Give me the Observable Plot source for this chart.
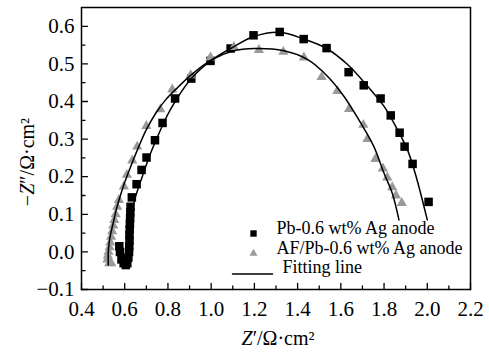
<!DOCTYPE html>
<html><head><meta charset="utf-8">
<script src="https://cdn.jsdelivr.net/npm/d3@7"></script>
<script src="https://cdn.jsdelivr.net/npm/@observablehq/plot@0.6"></script>
<style>html,body{margin:0;padding:0;background:#fff} #chart svg{display:block} #chart svg text{font-family:"Liberation Serif",serif !important}</style>
</head><body><div id="chart"></div>
<script>
// Pb-0.6 wt% Ag anode (squares)
const pbRe = [0.575,0.578,0.585,0.595,0.605,0.612,0.617,0.620,0.621,0.622,0.622,0.623,0.624,0.625,0.626,0.627,0.633,0.655,0.678,0.701,0.740,0.775,0.833,0.908,0.997,1.090,1.196,1.317,1.428,1.534,1.636,1.706,1.784,1.831,1.872,1.895,1.932,2.006];
const pbIm = [0.015,0.000,-0.020,-0.030,-0.035,-0.030,-0.015,0.000,0.015,0.030,0.045,0.060,0.075,0.090,0.105,0.120,0.145,0.180,0.218,0.251,0.297,0.343,0.408,0.461,0.508,0.541,0.576,0.585,0.566,0.542,0.478,0.443,0.408,0.363,0.317,0.280,0.234,0.133];
// AF/Pb-0.6 wt% Ag anode (triangles)
const afRe = [0.538,0.528,0.520,0.522,0.525,0.530,0.533,0.537,0.542,0.547,0.552,0.558,0.565,0.573,0.596,0.610,0.635,0.658,0.700,0.765,0.820,0.905,0.997,1.105,1.221,1.334,1.429,1.511,1.584,1.638,1.704,1.723,1.760,1.795,1.815,1.838,1.855,1.882];
const afIm = [-0.030,-0.030,-0.020,-0.010,0.000,0.012,0.025,0.040,0.055,0.070,0.085,0.100,0.120,0.138,0.174,0.205,0.243,0.280,0.335,0.379,0.432,0.470,0.517,0.545,0.537,0.532,0.517,0.465,0.428,0.380,0.338,0.300,0.247,0.222,0.198,0.172,0.150,0.130];
// Fitting lines
const pbFitRe = [0.607,0.613,0.618,0.623,0.628,0.635,0.650,0.681,0.720,0.766,0.812,0.905,0.997,1.090,1.198,1.318,1.429,1.534,1.630,1.723,1.800,1.862,1.908,1.946,2.000];
const pbFitIm = [-0.035,-0.010,0.020,0.050,0.080,0.111,0.147,0.200,0.263,0.325,0.379,0.459,0.508,0.541,0.573,0.584,0.566,0.541,0.499,0.441,0.387,0.325,0.272,0.205,0.085];
const afFitRe = [0.524,0.524,0.527,0.534,0.548,0.562,0.580,0.600,0.635,0.665,0.700,0.745,0.790,0.850,0.910,1.000,1.100,1.200,1.337,1.445,1.537,1.614,1.692,1.753,1.800,1.838,1.869];
const afFitIm = [-0.035,0.000,0.020,0.045,0.080,0.115,0.150,0.185,0.238,0.280,0.325,0.370,0.405,0.440,0.472,0.510,0.534,0.541,0.535,0.512,0.468,0.414,0.343,0.280,0.209,0.156,0.085];
// Axis ticks
const xMajor = [0.4,0.6,0.8,1.0,1.2,1.4,1.6,1.8,2.0,2.2];
const xMinor = [0.5,0.7,0.9,1.1,1.3,1.5,1.7,1.9,2.1];
const yMajor = [-0.1,0.0,0.1,0.2,0.3,0.4,0.5,0.6];
const yMinor = [-0.05,0.05,0.15,0.25,0.35,0.45,0.55];
const seriesNames = ["Pb-0.6 wt% Ag anode","AF/Pb-0.6 wt% Ag anode","Fitting line"];
const xLabel = "Z′/Ω·cm²";
const yLabel = "−Z″/Ω·cm²";

const zip = (a,b) => a.map((v,i) => ({re: v, im: b[i]}));
const pb = zip(pbRe, pbIm), af = zip(afRe, afIm);
const pbFit = zip(pbFitRe, pbFitIm), afFit = zip(afFitRe, afFitIm);

const FONT = "Liberation Serif";
const gray = "#9a9a9a";
const tickShape = {draw(c, l) { c.moveTo(0, 0); c.lineTo(0, -l); }};
const fmt = d => d.toFixed(1).replace("-", "−");

const chart = Plot.plot({
  width: 489, height: 353,
  marginLeft: 81, marginRight: 19, marginTop: 7, marginBottom: 64,
  style: {fontFamily: FONT, background: "#fff", color: "#000"},
  x: {domain: [0.4, 2.2], axis: null},
  y: {domain: [-0.1, 0.65], axis: null},
  marks: [
    Plot.dot(pb, {x: "re", y: "im", symbol: "square", r: 4.8, fill: "black"}),
    Plot.dot(af, {x: "re", y: "im", symbol: "triangle", r: 3.8, fill: gray}),
    Plot.line(pbFit, {x: "re", y: "im", curve: "catmull-rom", stroke: "black", strokeWidth: 1.5}),
    Plot.line(afFit, {x: "re", y: "im", curve: "catmull-rom", stroke: "black", strokeWidth: 1.5}),
    Plot.frame({stroke: "black", strokeWidth: 1.5}),
    Plot.vector(xMajor, {x: d => d, frameAnchor: "bottom", anchor: "start", rotate: 0, length: 6, shape: tickShape, stroke: "black", strokeWidth: 1.3}),
    Plot.vector(xMinor, {x: d => d, frameAnchor: "bottom", anchor: "start", rotate: 0, length: 3.5, shape: tickShape, stroke: "black", strokeWidth: 1.3}),
    Plot.vector(yMajor, {y: d => d, frameAnchor: "left", anchor: "start", rotate: 90, length: 6, shape: tickShape, stroke: "black", strokeWidth: 1.3}),
    Plot.vector(yMinor, {y: d => d, frameAnchor: "left", anchor: "start", rotate: 90, length: 3.5, shape: tickShape, stroke: "black", strokeWidth: 1.3}),
    Plot.axisX(xMajor, {anchor: "bottom", label: null, tickSize: 0, tickPadding: 12, fontSize: 21, fontFamily: FONT, fontVariant: "normal", tickFormat: fmt, fill: "black"}),
    Plot.axisY(yMajor, {anchor: "left", label: null, tickSize: 0, tickPadding: 7, fontSize: 21, fontFamily: FONT, fontVariant: "normal", tickFormat: fmt, fill: "black"}),
    Plot.text([xLabel], {frameAnchor: "bottom", fontSize: 20, fontFamily: FONT, fill: "black", className: "xlab"}),
    Plot.text([yLabel], {frameAnchor: "left", fontSize: 20, fontFamily: FONT, fill: "black", className: "ylab"}),
    // legend
    Plot.dot([seriesNames[0]], {frameAnchor: "bottom-right", dx: -217, dy: -56, symbol: "square", r: 3.6, fill: "black"}),
    Plot.dot([seriesNames[1]], {frameAnchor: "bottom-right", dx: -217, dy: -36, symbol: "triangle", r: 3, fill: gray}),
    Plot.vector([seriesNames[2]], {frameAnchor: "bottom-right", dx: -238, dy: -15.5, anchor: "start", rotate: 90, length: 40, shape: tickShape, stroke: "black", strokeWidth: 1.5}),
    Plot.text([seriesNames[0]], {frameAnchor: "bottom-right", dx: -194, dy: -56, textAnchor: "start", fontSize: 18, fontFamily: FONT, fill: "black"}),
    Plot.text([seriesNames[1]], {frameAnchor: "bottom-right", dx: -194, dy: -36, textAnchor: "start", fontSize: 18, fontFamily: FONT, fill: "black"}),
    Plot.text([seriesNames[2]], {frameAnchor: "bottom-right", dx: -188, dy: -17, textAnchor: "start", fontSize: 18, fontFamily: FONT, fill: "black"})
  ]
});
document.getElementById("chart").appendChild(chart);

const ns = "http://www.w3.org/2000/svg";
function styleLabel(el, transform) {
  const t = el.textContent;
  const idx = t.indexOf("Z");
  el.textContent = "";
  if (idx > 0) { const a = document.createElementNS(ns, "tspan"); a.textContent = t.slice(0, idx); el.appendChild(a); }
  const z = document.createElementNS(ns, "tspan"); z.textContent = "Z"; z.setAttribute("font-style", "italic"); el.appendChild(z);
  const b = document.createElementNS(ns, "tspan"); b.textContent = t.slice(idx + 1); el.appendChild(b);
  el.removeAttribute("x"); el.removeAttribute("y"); el.removeAttribute("dy");
  el.setAttribute("text-anchor", "middle");
  el.setAttribute("transform", transform);
  el.parentNode.removeAttribute("transform");
}
chart.querySelectorAll("g.xlab text").forEach(el => styleLabel(el, "translate(278,345)"));
chart.querySelectorAll("g.ylab text").forEach(el => styleLabel(el, "translate(34,162) rotate(-90)"));
chart.querySelectorAll("text").forEach(el => el.style.fontFamily = "'Liberation Serif', serif");
</script>
</body></html>
